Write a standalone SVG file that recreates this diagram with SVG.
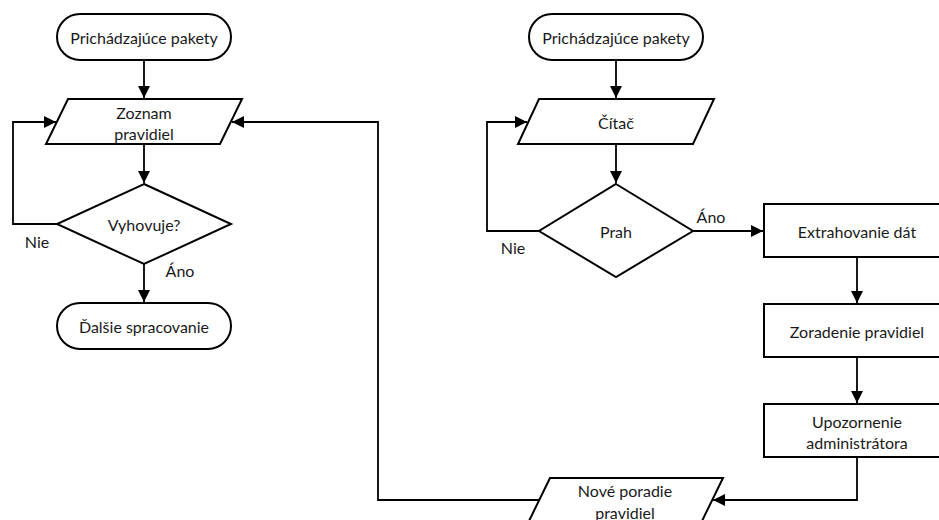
<svg xmlns="http://www.w3.org/2000/svg" width="939" height="520" viewBox="0 0 939 520">
<defs>
<marker id="arr" viewBox="0 0 12 12" refX="12" refY="6" markerWidth="12" markerHeight="12" markerUnits="userSpaceOnUse" orient="auto">
<path d="M0,0 L12,6 L0,12 z" fill="#000"/>
</marker>
<style>
.s{fill:#fff;stroke:#000;stroke-width:2;stroke-linejoin:miter}
.c{fill:none;stroke:#000;stroke-width:1.8}
.a{marker-end:url(#arr)}
text{font-family:Lato,"Open Sans","Liberation Sans",sans-serif;font-size:16px;fill:#1a1a1a;text-anchor:middle;dominant-baseline:central}
</style>
</defs>
<rect width="939" height="520" fill="#fff"/>
<g id="connectors">
<path class="c a" d="M144,60 V98"/>
<path class="c a" d="M144,144 V183"/>
<path class="c a" d="M57,224 H13 V122 H56"/>
<path class="c a" d="M144,264 V302"/>
<path class="c a" d="M540,500 H378 V122 H232"/>
<path class="c a" d="M616,60 V98"/>
<path class="c a" d="M616,144 V183"/>
<path class="c a" d="M539,231 H487 V122 H527"/>
<path class="c a" d="M693,231 H763"/>
<path class="c a" d="M857,257 V303"/>
<path class="c a" d="M857,357 V403"/>
<path class="c a" d="M857,457 V500 H713"/>
</g>
<g id="left-start">
<rect class="s" x="57" y="14" width="174" height="46" rx="23"/>
<text x="144" y="37">Prichádzajúce pakety</text>
</g>
<g id="zoznam">
<polygon class="s" points="68,99 242,99 220,144 46,144"/>
<text x="144" y="112">Zoznam</text>
<text x="144" y="133">pravidiel</text>
</g>
<g id="vyhovuje">
<polygon class="s" points="144,184 231,224 144,264 57,224"/>
<text x="144" y="224">Vyhovuje?</text>
</g>
<g id="dalsie">
<rect class="s" x="57" y="303" width="174" height="46" rx="23"/>
<text x="144" y="326">Ďalšie spracovanie</text>
</g>
<g id="right-start">
<rect class="s" x="529" y="14" width="174" height="46" rx="23"/>
<text x="616" y="37">Prichádzajúce pakety</text>
</g>
<g id="citac">
<polygon class="s" points="539,99 714,99 693,144 518,144"/>
<text x="616" y="122">Čítač</text>
</g>
<g id="prah">
<polygon class="s" points="616,184 693,231 616,277 539,231"/>
<text x="616" y="231">Prah</text>
</g>
<g id="extrahovanie">
<rect class="s" x="764" y="204" width="186" height="53"/>
<text x="857" y="231">Extrahovanie dát</text>
</g>
<g id="zoradenie">
<rect class="s" x="764" y="304" width="186" height="53"/>
<text x="857" y="331">Zoradenie pravidiel</text>
</g>
<g id="upozornenie">
<rect class="s" x="764" y="404" width="186" height="53"/>
<text x="857" y="421">Upozornenie</text>
<text x="857" y="442">administrátora</text>
</g>
<g id="nove">
<polygon class="s" points="550,478 723,478 701,523 528,523"/>
<text x="625" y="490">Nové poradie</text>
<text x="625" y="512">pravidiel</text>
</g>
<g id="labels">
<text x="37" y="241">Nie</text>
<text x="180" y="270">Áno</text>
<text x="513" y="247">Nie</text>
<text x="711" y="216">Áno</text>
</g>
</svg>
